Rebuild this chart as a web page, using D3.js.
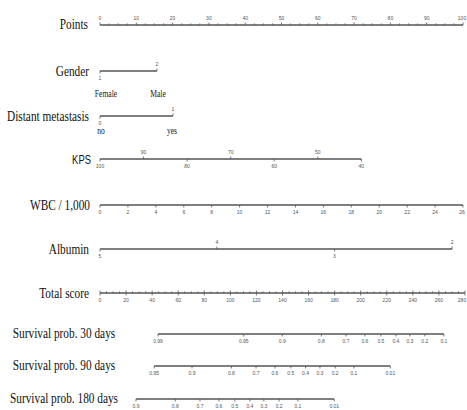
<!DOCTYPE html>
<html lang="en">
<head>
  <meta charset="UTF-8">
  <title>Nomogram</title>
  <style>
    body { margin: 0; background: #fff; }
    .axis-line { stroke: #555; stroke-width: 1.4; fill: none; }
    .tick { stroke: #555; stroke-width: 0.8; }
    .tick-label { font-family: "Liberation Sans", sans-serif; font-size: 5px; fill: #555; }
    .var-label { font-family: "Liberation Serif", serif; font-size: 14.5px; fill: #111; }
    .level-label { font-family: "Liberation Serif", serif; font-size: 9.5px; fill: #222; }
  </style>
</head>
<body>
<script src="https://cdn.jsdelivr.net/npm/d3@7"></script>
<script>
  // ---- data ----
  var pointsTicks = [0, 10, 20, 30, 40, 50, 60, 70, 80, 90, 100];

  var genderValues = [1, 2];
  var genderPoints = [0, 15.7];
  var genderNames = ["Female", "Male"];

  var metaValues = [0, 1];
  var metaPoints = [0, 20.1];
  var metaNames = ["no", "yes"];

  var kpsValues = [100, 90, 80, 70, 60, 50, 40];
  var kpsPoints = [0, 12, 24, 36, 48, 60, 72];

  var wbcValues = [0, 2, 4, 6, 8, 10, 12, 14, 16, 18, 20, 22, 24, 26];
  var wbcDomain = [0, 26];
  var wbcPointRange = [0, 100];

  var albuminValues = [5, 4, 3, 2];
  var albuminPoints = [0, 32.2, 64.6, 97];

  var totalTicks = [0, 20, 40, 60, 80, 100, 120, 140, 160, 180, 200, 220, 240, 260, 280];

  var surv30Probs = [0.99, 0.95, 0.9, 0.8, 0.7, 0.6, 0.5, 0.4, 0.3, 0.2, 0.1];
  var surv30Score = [44.5, 110.3, 139.8, 169.8, 188.7, 203.2, 215.5, 227, 237.7, 249.2, 263.8];

  var surv90Probs = [0.95, 0.9, 0.8, 0.7, 0.6, 0.5, 0.4, 0.3, 0.2, 0.1, 0.01];
  var surv90Score = [41.6, 70.6, 100.8, 119.7, 134.2, 146.4, 157.7, 168.7, 180.4, 194.8, 222.7];

  var surv180Probs = [0.9, 0.8, 0.7, 0.6, 0.5, 0.4, 0.3, 0.2, 0.1, 0.01];
  var surv180Score = [27.6, 57.8, 76.7, 91.2, 103.4, 115, 125.7, 137.4, 151.8, 179.7];

  // ---- layout ----
  var width = 467, height = 410;
  var svg = d3.select("body").append("svg").attr("width", width).attr("height", height);

  var pointsX = d3.scaleLinear().domain([0, 100]).range([100, 463]);
  var totalX = d3.scaleLinear().domain([0, 280]).range([100, 465]);
  var wbcPts = d3.scaleLinear().domain(wbcDomain).range(wbcPointRange);

  // left side variable name, squeezed a little like the original
  function varLabel(text, y, anchorX, anchor, font) {
    var sx = font ? font.sx : 0.78;
    var t = svg.append("text")
      .attr("class", "var-label")
      .attr("transform", "translate(" + anchorX + "," + y + ") scale(" + sx + ",1)")
      .attr("text-anchor", anchor)
      .text(text);
    if (font) t.style("font-family", font.family).style("font-size", font.size);
  }

  // draw one scale row: items = [{x, label, side}]  side: -1 above, 1 below
  function drawRow(y, items, minor) {
    var xs = items.map(function (d) { return d.x; });
    svg.append("line").attr("class", "axis-line")
      .attr("x1", d3.min(xs)).attr("x2", d3.max(xs))
      .attr("y1", y).attr("y2", y);

    if (minor) {
      svg.selectAll(null).data(minor).enter().append("line")
        .attr("class", "tick")
        .attr("x1", function (d) { return d.x; }).attr("x2", function (d) { return d.x; })
        .attr("y1", y).attr("y2", function (d) { return y + d.side * 1.6; });
    }

    svg.selectAll(null).data(items).enter().append("line")
      .attr("class", "tick")
      .attr("x1", function (d) { return d.x; }).attr("x2", function (d) { return d.x; })
      .attr("y1", y).attr("y2", function (d) { return y + d.side * 2.5; });

    svg.selectAll(null).data(items).enter().append("text")
      .attr("class", "tick-label")
      .attr("text-anchor", "middle")
      .attr("x", function (d) { return Math.min(d.x, width - 5); })
      .attr("y", function (d) { return d.side < 0 ? y - 5 : y + 9; })
      .text(function (d) { return d.label; });
  }

  // Points
  var pointsMinor = d3.range(0, 100.01, 2.5)
    .filter(function (v) { return v % 10 !== 0; })
    .map(function (v) { return { x: pointsX(v), side: -1 }; });
  drawRow(25, pointsTicks.map(function (v) {
    return { x: pointsX(v), label: v, side: -1 };
  }), pointsMinor);
  varLabel("Points", 29, 88, "end");

  // Gender
  drawRow(71, genderValues.map(function (v, i) {
    return { x: pointsX(genderPoints[i]), label: v, side: i === 0 ? 1 : -1 };
  }));
  varLabel("Gender", 76, 89, "end");
  svg.selectAll(null).data(genderNames).enter().append("text")
    .attr("class", "level-label")
    .attr("text-anchor", "middle")
    .attr("transform", function (d, i) {
      return "translate(" + (pointsX(genderPoints[i]) + (i === 0 ? 6 : 1)) + ",97) scale(0.8,1)";
    })
    .text(function (d) { return d; });

  // Distant metastasis
  drawRow(116, metaValues.map(function (v, i) {
    return { x: pointsX(metaPoints[i]), label: v, side: i === 0 ? 1 : -1 };
  }));
  varLabel("Distant metastasis", 121, 89, "end");
  svg.selectAll(null).data(metaNames).enter().append("text")
    .attr("class", "level-label")
    .attr("text-anchor", "middle")
    .attr("transform", function (d, i) {
      return "translate(" + (pointsX(metaPoints[i]) + (i === 0 ? 1 : -1)) + ",134) scale(0.8,1)";
    })
    .text(function (d) { return d; });

  // KPS
  drawRow(159, kpsValues.map(function (v, i) {
    return { x: pointsX(kpsPoints[i]), label: v, side: i % 2 === 0 ? 1 : -1 };
  }));
  varLabel("KPS", 164, 91, "end", { family: "'Liberation Sans', sans-serif", size: "13.5px", sx: 0.7 });

  // WBC / 1,000
  drawRow(205, wbcValues.map(function (v) {
    return { x: pointsX(wbcPts(v)), label: v, side: 1 };
  }));
  varLabel("WBC / 1,000", 210, 90, "end");

  // Albumin
  drawRow(249, albuminValues.map(function (v, i) {
    return { x: pointsX(albuminPoints[i]), label: v, side: i % 2 === 0 ? 1 : -1 };
  }));
  varLabel("Albumin", 254, 89, "end");

  // Total score
  var totalMinor = d3.range(0, 280.01, 5)
    .filter(function (v) { return v % 20 !== 0; })
    .map(function (v) { return { x: totalX(v), side: -1 }; });
  drawRow(293, totalTicks.map(function (v) {
    return { x: totalX(v), label: v, side: 1 };
  }), totalMinor);
  svg.selectAll(null).data(totalTicks).enter().append("line")
    .attr("class", "tick")
    .attr("x1", function (d) { return totalX(d); }).attr("x2", function (d) { return totalX(d); })
    .attr("y1", 293).attr("y2", 290.5);
  varLabel("Total score", 298, 89, "end");

  // Survival probabilities
  var survRows = [
    { name: "Survival prob. 30 days", y: 334, probs: surv30Probs, score: surv30Score },
    { name: "Survival prob. 90 days", y: 366, probs: surv90Probs, score: surv90Score },
    { name: "Survival prob. 180 days", y: 399, probs: surv180Probs, score: surv180Score }
  ];
  survRows.forEach(function (r) {
    drawRow(r.y, r.probs.map(function (p, i) {
      return { x: totalX(r.score[i]), label: p, side: 1 };
    }));
    varLabel(r.name, r.y + 4, 64, "middle");
  });
</script>
</body>
</html>
